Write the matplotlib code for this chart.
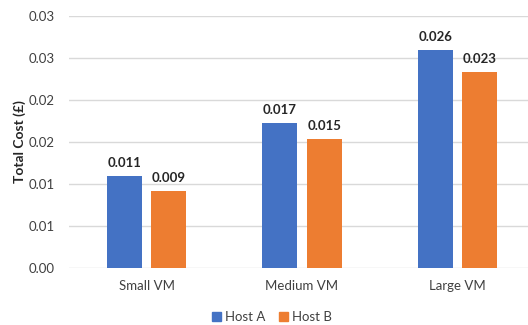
import matplotlib
matplotlib.use("Agg")
import matplotlib.pyplot as plt
from matplotlib.patches import Patch
import numpy as np

plt.rcParams['font.family'] = ['Lato', 'DejaVu Sans']

categories = ["Small VM", "Medium VM", "Large VM"]
host_a = [0.0109, 0.0173, 0.0260]
host_b = [0.0091, 0.0153, 0.0233]
series_names = ["Host A", "Host B"]
y_ticks = [0.000, 0.005, 0.010, 0.015, 0.020, 0.025, 0.030]
y_tick_labels = ["0.00", "0.01", "0.01", "0.02", "0.02", "0.03", "0.03"]

blue = "#4472C4"
orange = "#ED7D31"
text_col = "#262626"
tick_col = "#404040"

fig = plt.figure(figsize=(5.28, 3.25), dpi=100)
ax = fig.add_axes([0.1307, 0.1763, 0.8826, 0.7745])

x = np.arange(len(categories))
w = 0.225
off = 0.1425
ba = ax.bar(x - off, host_a, width=w, color=blue, zorder=3)
bb = ax.bar(x + off, host_b, width=w, color=orange, zorder=3)

for bars, vals in ((ba, host_a), (bb, host_b)):
    for r, v in zip(bars, vals):
        ax.annotate(f"{v:.3f}", (r.get_x() + r.get_width() / 2, v),
                    xytext=(0, 5), textcoords="offset points",
                    ha="center", va="bottom", fontsize=9.5, fontweight="bold",
                    color=text_col)

ax.set_xlim(-0.5, 2.5)
ax.set_ylim(0, 0.030)
ax.set_yticks(y_ticks)
ax.set_yticklabels(y_tick_labels)
ax.set_xticks(x)
ax.set_xticklabels(categories)
ax.tick_params(axis="both", length=0, labelsize=9.5, colors=tick_col)
ax.tick_params(axis="y", pad=10)
ax.tick_params(axis="x", pad=9)
ax.yaxis.grid(True, color="#D9D9D9", linewidth=1.0, zorder=0)
ax.set_axisbelow(True)
for s in ax.spines.values():
    s.set_visible(False)

ax.set_ylabel("Total Cost (£)", fontsize=10, fontweight="bold", color=text_col, labelpad=2)

handles = [Patch(color=blue, label=series_names[0]), Patch(color=orange, label=series_names[1])]
fig.legend(handles=handles, loc="center", bbox_to_anchor=(0.515, 0.025), ncol=2,
           frameon=False, fontsize=9.5, handlelength=0.7, handleheight=0.7,
           handletextpad=0.3, columnspacing=1.0, labelcolor=tick_col)

fig.savefig("out.png", dpi=100)
